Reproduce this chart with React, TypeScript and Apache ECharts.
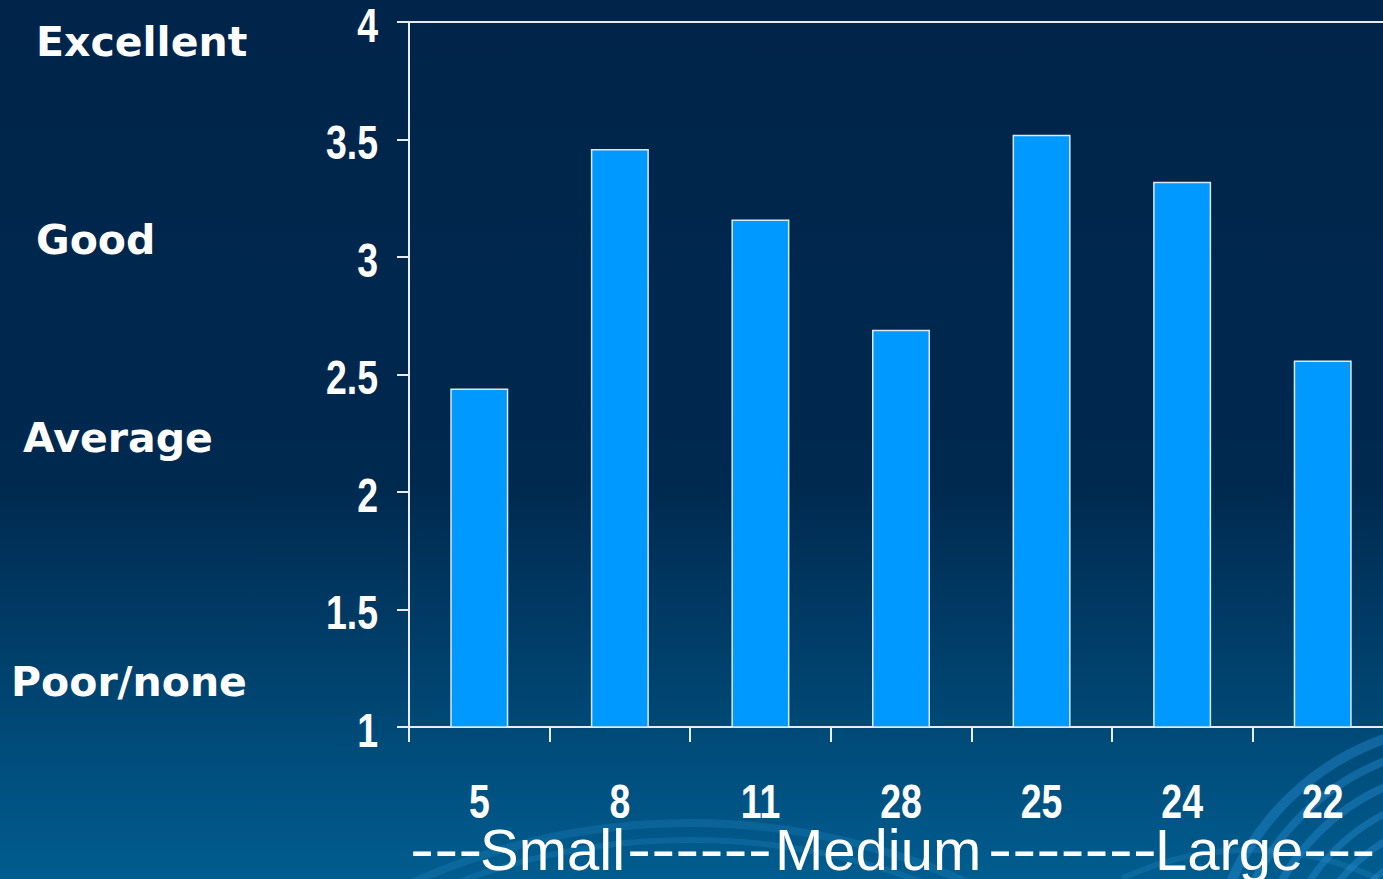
import React, { useEffect, useRef } from "react";
import * as echarts from "echarts";

// Group sizes shown under each bar and their average rating
const categories = ["5", "8", "11", "28", "25", "24", "22"];
const ratings = [2.44, 3.46, 3.16, 2.69, 3.52, 3.32, 2.56];
// Value axis tick labels
const valueTicks = [1, 1.5, 2, 2.5, 3, 3.5, 4];
// Rating scale words shown to the left of the value axis
const scaleWords = ["Excellent", "Good", "Average", "Poor/none"];
// Size band caption pieces drawn under the category labels
const bandPieces = ["---", "Small", "------", "Medium", "-------", "Large", "---"];

const W = 1383;
const H = 879;
const CHART_W = 1410;

export default function App() {
  const ref = useRef<HTMLDivElement>(null);

  useEffect(() => {
    document.body.style.margin = "0";
    if (!ref.current) return;
    const chart = echarts.init(ref.current, undefined, { renderer: "svg" });

    const axisColor = "#E6EDF4";
    // Condensed bold numerals: a regular sans squeezed horizontally
    const numFont = "bold 48px 'Liberation Sans', Arial, sans-serif";
    const squeeze = 0.78;

    chart.setOption({
      animation: false,
      backgroundColor: {
        type: "linear",
        x: 0,
        y: 0,
        x2: 0,
        y2: 1,
        colorStops: [
          { offset: 0, color: "#00244A" },
          { offset: 0.55, color: "#00294F" },
          { offset: 1, color: "#005D8F" },
        ],
      },
      grid: { left: 409, top: 22, width: 984, height: 705, containLabel: false },
      xAxis: [
        {
          type: "category",
          data: categories,
          axisLine: { show: true, lineStyle: { color: axisColor, width: 2 } },
          axisTick: { show: true, length: 15, lineStyle: { color: axisColor, width: 2 } },
          axisLabel: { show: false },
          splitLine: { show: false },
        },
        {
          type: "category",
          data: categories,
          position: "top",
          axisLine: { show: true, lineStyle: { color: axisColor, width: 2 } },
          axisTick: { show: false },
          axisLabel: { show: false },
          splitLine: { show: false },
        },
      ],
      yAxis: {
        type: "value",
        min: 1,
        max: 4,
        interval: 0.5,
        axisLine: { show: true, lineStyle: { color: axisColor, width: 2 } },
        axisTick: { show: true, length: 12, lineStyle: { color: axisColor, width: 2 } },
        axisLabel: { show: false },
        splitLine: { show: false },
      },
      series: [
        {
          type: "bar",
          data: ratings,
          xAxisIndex: 0,
          barWidth: 58,
          itemStyle: { color: "#0099FF", borderColor: "#DCE8F4", borderWidth: 1.5 },
        },
      ],
    });

    // Axis labels placed from the chart's own scales
    const yLabels = valueTicks.map((v) => ({
      type: "text",
      x: 378,
      y: (chart.convertToPixel({ yAxisIndex: 0 }, v) as number) + 3,
      scaleX: squeeze,
      z: 10,
      style: {
        text: String(v),
        fill: "#FFFFFF",
        font: numFont,
        align: "right",
        verticalAlign: "middle",
        lineHeight: 40,
      },
    }));
    const xLabels = categories.map((c) => ({
      type: "text",
      x: chart.convertToPixel({ xAxisIndex: 0 }, c) as number,
      y: 801,
      scaleX: squeeze,
      z: 10,
      style: {
        text: c,
        fill: "#FFFFFF",
        font: numFont,
        align: "center",
        verticalAlign: "middle",
        lineHeight: 40,
      },
    }));

    const wordY = [42, 240, 438, 682];
    const wordX = [36, 36, 23, 11];
    const wordTexts = scaleWords.map((w, i) => ({
      type: "text",
      x: wordX[i],
      y: wordY[i],
      z: 10,
      style: {
        text: w,
        fill: "#FFFFFF",
        font: "bold 41px 'DejaVu Sans', sans-serif",
        align: "left",
        verticalAlign: "middle",
        lineHeight: 40,
      },
    }));

    const pieceX = [410, 480, 627, 775, 988, 1155, 1303];
    const bandTexts = bandPieces.map((p, i) => ({
      type: "text",
      x: pieceX[i],
      y: 849,
      z: 10,
      scaleX: p.startsWith("-") ? 1.25 : 1,
      style: {
        text: p,
        fill: "#FFFFFF",
        font: "58px 'Liberation Sans', Arial, sans-serif",
        align: "left",
        verticalAlign: "middle",
        lineHeight: 48,
      },
    }));

    // Swirl decoration in the lower right corner of the backdrop
    const swirlRings = [
      { r: 267, w: 10, a0: 1.08, a1: 1.7 },
      { r: 246, w: 8, a0: 1.1, a1: 1.7 },
      { r: 222, w: 8, a0: 1.12, a1: 1.38 },
      { r: 222, w: 8, a0: 1.42, a1: 1.7 },
      { r: 198, w: 7, a0: 1.15, a1: 1.7 },
      { r: 174, w: 7, a0: 1.2, a1: 1.45 },
      { r: 150, w: 6, a0: 1.25, a1: 1.7 },
      { r: 126, w: 6, a0: 1.3, a1: 1.7 },
    ];
    const swirl = swirlRings.map((a) => ({
      type: "arc",
      z: -1,
      silent: true,
      shape: { cx: 1475, cy: 990, r: a.r, startAngle: Math.PI * a.a0, endAngle: Math.PI * a.a1 },
      style: { stroke: "rgba(40, 140, 210, 0.42)", lineWidth: a.w, fill: null },
    }));
    // Broad faint sweeps crossing the caption line
    const sweep = [
      { cx: 690, cy: 1500, r: 677, w: 8 },
      { cx: 690, cy: 1500, r: 660, w: 6 },
      { cx: 1250, cy: 1150, r: 300, w: 6 },
    ].map((a) => ({
      type: "arc",
      z: -1,
      silent: true,
      shape: { cx: a.cx, cy: a.cy, r: a.r, startAngle: Math.PI * 1.36, endAngle: Math.PI * 1.64 },
      style: { stroke: "rgba(50, 150, 215, 0.22)", lineWidth: a.w, fill: null },
    }));

    chart.setOption({
      graphic: [...swirl, ...sweep, ...yLabels, ...xLabels, ...wordTexts, ...bandTexts],
    });

    return () => chart.dispose();
  }, []);

  return (
    <div style={{ width: W, height: H, overflow: "hidden", position: "relative" }}>
      <div ref={ref} style={{ width: CHART_W, height: H }} />
    </div>
  );
}
